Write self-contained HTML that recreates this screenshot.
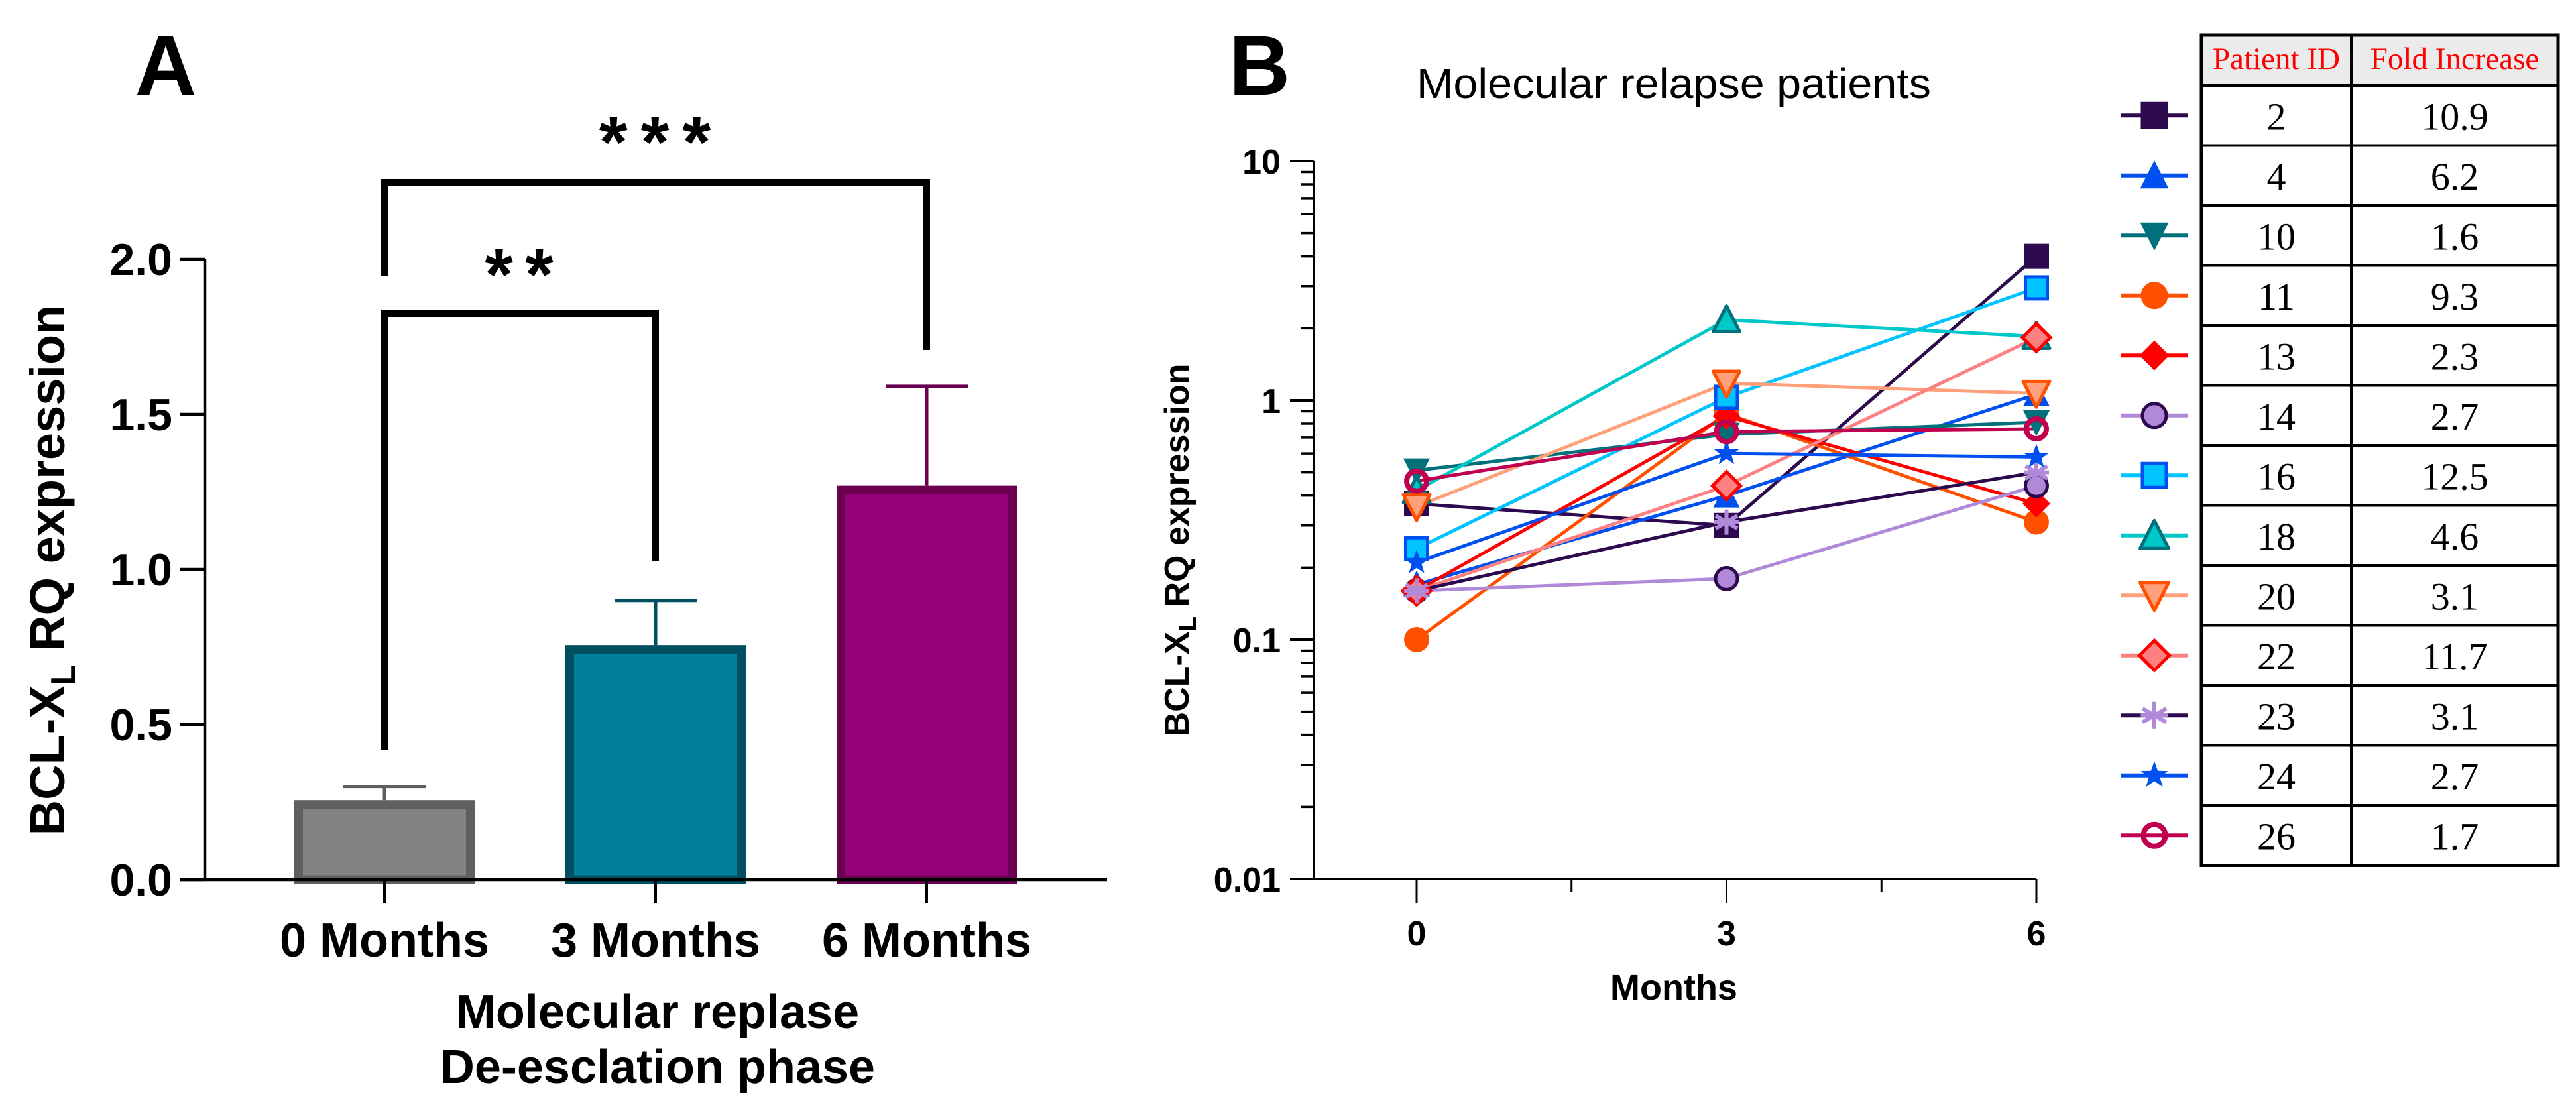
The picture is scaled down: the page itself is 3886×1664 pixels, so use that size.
<!DOCTYPE html>
<html><head><meta charset="utf-8"><style>
html,body{margin:0;padding:0;background:#fff;}
svg{display:block;}
text{font-family:"Liberation Sans",Arial,sans-serif;}
.serif{font-family:"Liberation Serif","Times New Roman",serif;}
</style></head>
<body>
<svg id="fig" width="3886" height="1664" viewBox="0 0 3886 1664" xmlns="http://www.w3.org/2000/svg">
  <g id="panelA"></g>
  <g id="panelB"></g>
  <g id="legend"></g>
</svg>
<script>
// ---------- Panel A data ----------
const barCategories = ["0 Months", "3 Months", "6 Months"];
const barMeans = [0.256, 0.756, 1.27];
const barErrors = [0.044, 0.144, 0.32];
const barYTicks = [0.0, 0.5, 1.0, 1.5, 2.0];
const barYTickLabels = ["0.0", "0.5", "1.0", "1.5", "2.0"];

// ---------- Panel B data ----------
const lineXValues = [0, 3, 6];
const lineXTickLabels = ["0", "3", "6"];
const lineYTicks = [10, 1, 0.1, 0.01];
const lineYTickLabels = ["10", "1", "0.1", "0.01"];
const patientIds = ["2","4","10","11","13","14","16","18","20","22","23","24","26"];
const foldIncrease = ["10.9","6.2","1.6","9.3","2.3","2.7","12.5","4.6","3.1","11.7","3.1","2.7","1.7"];
const p2 = [0.37, 0.30, 4.0];
const p4 = [0.17, 0.40, 1.06];
const p10 = [0.51, 0.72, 0.81];
const p11 = [0.10, 0.88, 0.31];
const p13 = [0.16, 0.86, 0.37];
const p14 = [0.16, 0.18, 0.44];
const p16 = [0.24, 1.03, 2.95];
const p18 = [0.42, 2.17, 1.85];
const p20 = [0.36, 1.18, 1.07];
const p22 = [0.16, 0.44, 1.83];
const p23 = [0.16, 0.31, 0.50];
const p24 = [0.21, 0.60, 0.58];
const p26 = [0.46, 0.74, 0.76];
const patientSeries = [p2,p4,p10,p11,p13,p14,p16,p18,p20,p22,p23,p24,p26];

const NS = "http://www.w3.org/2000/svg";
function mk(parent, tag, attrs, txt){
  const e = document.createElementNS(NS, tag);
  for (const k in attrs) e.setAttribute(k, attrs[k]);
  if (txt !== undefined) e.textContent = txt;
  parent.appendChild(e);
  return e;
}

// ================= PANEL A =================
const A = document.getElementById('panelA');
const aY0 = 1327, aPxPerUnit = 468, aXAxisL = 271, aXAxisR = 1670, aYAxisX = 309;
const aYTop = aY0 - 2.0 * aPxPerUnit;
const ya = v => aY0 - v * aPxPerUnit;
const barCenters = [580, 989, 1398];
const xa = i => barCenters[i];
const barHalf = 136;
const barFill = ["#838383", "#00809a", "#96007a"];
const barStroke = ["#5f5f5f", "#004f60", "#6b0050"];

let t = mk(A, 'text', {x: 250, y: 143, 'font-size': 128, 'font-weight': 'bold', 'text-anchor': 'middle'}, 'A');



barMeans.forEach((m, i) => {
  const top = ya(m), cx = xa(i);
  const eb = mk(A, 'path', {d: `M${cx},${top} V${ya(m + barErrors[i])} M${cx-62},${ya(m + barErrors[i])} H${cx+62}`, stroke: barStroke[i], 'stroke-width': 5, fill: 'none'});
  
  
  const r = mk(A, 'rect', {x: cx - barHalf + 6.5, y: top + 6.5, width: 2*barHalf - 13, height: aY0 - top - 6.5, fill: barFill[i], stroke: barStroke[i], 'stroke-width': 13});
  
  
  const tk = mk(A, 'line', {x1: cx, x2: cx, y1: aY0, y2: 1363, stroke: '#000', 'stroke-width': 4});
  
  
  const lb = mk(A, 'text', {x: cx, y: 1443, 'font-size': 72, 'font-weight': 'bold', 'text-anchor': 'middle'}, barCategories[i]);
  
  
});

let ax = mk(A, 'path', {d: `M${aYAxisX},${aYTop} V${aY0} M${aXAxisL},${aY0} H${aXAxisR}`, stroke: '#000', 'stroke-width': 4.5, fill: 'none'});


barYTicks.forEach((v, i) => {
  const tk = mk(A, 'line', {x1: aXAxisL, x2: aYAxisX, y1: ya(v), y2: ya(v), stroke: '#000', 'stroke-width': 4.5});
  
  
  const lb = mk(A, 'text', {x: 260, y: ya(v) + 24, 'font-size': 68, 'font-weight': 'bold', 'text-anchor': 'end'}, barYTickLabels[i]);
  
  
});

// significance brackets
let br1 = mk(A, 'path', {d: `M${xa(0)},1131 V473 H${xa(1)} V847`, stroke: '#000', 'stroke-width': 10, fill: 'none'});


let s1 = mk(A, 'text', {x: 792, y: 452, 'font-size': 110, 'font-weight': 'bold', 'text-anchor': 'middle', 'letter-spacing': 18}, '**');


let br2 = mk(A, 'path', {d: `M${xa(0)},417 V275 H${xa(2)} V528`, stroke: '#000', 'stroke-width': 10, fill: 'none'});


let s2 = mk(A, 'text', {x: 998, y: 252, 'font-size': 110, 'font-weight': 'bold', 'text-anchor': 'middle', 'letter-spacing': 20}, '***');



let xt1 = mk(A, 'text', {x: 992, y: 1551, 'font-size': 72, 'font-weight': 'bold', 'text-anchor': 'middle'}, 'Molecular replase');


let xt2 = mk(A, 'text', {x: 992, y: 1634, 'font-size': 72, 'font-weight': 'bold', 'text-anchor': 'middle'}, 'De-esclation phase');


let yt = mk(A, 'text', {transform: 'translate(97,860) rotate(-90)', 'font-size': 74, 'font-weight': 'bold', 'text-anchor': 'middle'});


mk(yt, 'tspan', {}, 'BCL-X');
mk(yt, 'tspan', {'font-size': 52, dy: 16}, 'L');
mk(yt, 'tspan', {dy: -16}, ' RQ expression');

// ================= PANEL B =================
const B = document.getElementById('panelB');
const bAxisX = 1982, bAxisY = 1326, bDecade = 361;
const bX0 = 2137, bPxPerMonth = (3072 - 2137) / 6;
const xb = m => bX0 + m * bPxPerMonth;
const yb = v => bAxisY - (Math.log10(v) + 2) * bDecade;

t = mk(B, 'text', {x: 1900, y: 143, 'font-size': 128, 'font-weight': 'bold', 'text-anchor': 'middle'}, 'B');


t = mk(B, 'text', {x: 2137, y: 148, 'font-size': 64, textLength: 776, lengthAdjust: 'spacingAndGlyphs'}, 'Molecular relapse patients');



ax = mk(B, 'path', {d: `M${bAxisX},${yb(10)} V${bAxisY} H${xb(6)}`, stroke: '#000', 'stroke-width': 4, fill: 'none'});


lineYTicks.forEach((v, i) => {
  const tk = mk(B, 'line', {x1: 1946, x2: bAxisX, y1: yb(v), y2: yb(v), stroke: '#000', 'stroke-width': 4});
  
  
  const lb = mk(B, 'text', {x: 1932, y: yb(v) + 19, 'font-size': 52, 'font-weight': 'bold', 'text-anchor': 'end'}, lineYTickLabels[i]);
  
  
});
[0.01, 0.1, 1].forEach(base => {
  for (let k = 2; k <= 9; k++) {
    const tk = mk(B, 'line', {x1: 1963, x2: bAxisX, y1: yb(base * k), y2: yb(base * k), stroke: '#000', 'stroke-width': 3.5});
    
    
  }
});
lineXValues.forEach((m, i) => {
  const tk = mk(B, 'line', {x1: xb(m), x2: xb(m), y1: bAxisY, y2: 1362, stroke: '#000', 'stroke-width': 3});
  
  
  const lb = mk(B, 'text', {x: xb(m), y: 1426, 'font-size': 52, 'font-weight': 'bold', 'text-anchor': 'middle'}, lineXTickLabels[i]);
  
  
});
[1.5, 4.5].forEach(m => {
  const tk = mk(B, 'line', {x1: xb(m), x2: xb(m), y1: bAxisY, y2: 1346, stroke: '#000', 'stroke-width': 3});
  
  
});
t = mk(B, 'text', {x: 2525, y: 1508, 'font-size': 54, 'font-weight': 'bold', 'text-anchor': 'middle'}, 'Months');


yt = mk(B, 'text', {transform: 'translate(1793,830) rotate(-90)', 'font-size': 52, 'font-weight': 'bold', 'text-anchor': 'middle'});


mk(yt, 'tspan', {}, 'BCL-X');
mk(yt, 'tspan', {'font-size': 37, dy: 11}, 'L');
mk(yt, 'tspan', {dy: -11}, ' RQ expression');

const styles = [
  {line:'#2d0a4e', shape:'square', fill:'#2d0a4e', stroke:'#2d0a4e'},
  {line:'#0050ef', shape:'tri', fill:'#0050ef', stroke:'#0050ef'},
  {line:'#00707a', shape:'itri', fill:'#00707a', stroke:'#00707a'},
  {line:'#ff5000', shape:'circle', fill:'#ff5000', stroke:'#ff5000'},
  {line:'#ff0000', shape:'diamond', fill:'#ff0000', stroke:'#ff0000'},
  {line:'#b08ad8', shape:'circle', fill:'#b08ad8', stroke:'#2d0a4e'},
  {line:'#00c4ff', shape:'square', fill:'#00c4ff', stroke:'#0050ef'},
  {line:'#00c8c8', shape:'tri', fill:'#00c8c8', stroke:'#00707a'},
  {line:'#ffa07a', shape:'itri', fill:'#ffa07a', stroke:'#ff5000'},
  {line:'#ff8080', shape:'diamond', fill:'#ff8080', stroke:'#ff0000'},
  {line:'#2d0a4e', shape:'asterisk', fill:'none', stroke:'#b08ad8'},
  {line:'#0050ef', shape:'star', fill:'#0050ef', stroke:'#0050ef'},
  {line:'#c0004f', shape:'ocircle', fill:'none', stroke:'#c0004f'}
];

function marker(g, shape, cx, cy, s, st) {
  const h = s / 2;
  let e;
  const sw = (st.fill === st.stroke) ? 0 : 5;
  if (shape === 'square') e = mk(g, 'rect', {x: cx-h+sw/2, y: cy-h+sw/2, width: s-sw, height: s-sw, fill: st.fill, stroke: st.stroke, 'stroke-width': sw});
  else if (shape === 'circle') e = mk(g, 'circle', {cx, cy, r: h - sw/2, fill: st.fill, stroke: st.stroke, 'stroke-width': sw});
  else if (shape === 'ocircle') e = mk(g, 'circle', {cx, cy, r: h - 4, fill: 'none', stroke: st.stroke, 'stroke-width': 8});
  else if (shape === 'tri') e = mk(g, 'polygon', {points: `${cx},${cy-h-2} ${cx+h+1},${cy+h-1} ${cx-h-1},${cy+h-1}`, fill: st.fill, stroke: st.stroke, 'stroke-width': sw, 'stroke-linejoin': 'round'});
  else if (shape === 'itri') e = mk(g, 'polygon', {points: `${cx},${cy+h+2} ${cx+h+1},${cy-h+1} ${cx-h-1},${cy-h+1}`, fill: st.fill, stroke: st.stroke, 'stroke-width': sw, 'stroke-linejoin': 'round'});
  else if (shape === 'diamond') e = mk(g, 'polygon', {points: `${cx},${cy-h-2} ${cx+h+2},${cy} ${cx},${cy+h+2} ${cx-h-2},${cy}`, fill: st.fill, stroke: st.stroke, 'stroke-width': sw});
  else if (shape === 'star') {
    let pts = [];
    for (let k = 0; k < 10; k++) { const r = k % 2 ? h*0.42 : h*1.05; const a = -Math.PI/2 + k*Math.PI/5; pts.push((cx + r*Math.cos(a)).toFixed(1) + ',' + (cy + r*Math.sin(a)).toFixed(1)); }
    e = mk(g, 'polygon', {points: pts.join(' '), fill: st.fill});
  } else if (shape === 'asterisk') {
    let d = `M${cx},${cy-h} V${cy+h}`;
    [30, 150].forEach(a => { const r = a*Math.PI/180; d += ` M${cx-h*Math.cos(r)},${cy-h*Math.sin(r)} L${cx+h*Math.cos(r)},${cy+h*Math.sin(r)}`; });
    d += ` M${cx-h},${cy} H${cx+h}`;
    e = mk(g, 'path', {d, stroke: st.stroke, 'stroke-width': 6, fill: 'none'});
  }
  return e;
}

const linesG = mk(B, 'g', {});


patientSeries.forEach((vals, i) => {
  const st = styles[i];
  const g = mk(linesG, 'g', {});
  
  
  const pts = vals.map((v, j) => xb(lineXValues[j]).toFixed(1) + ',' + yb(v).toFixed(1)).join(' ');
  const pl = mk(g, 'polyline', {points: pts, fill: 'none', stroke: st.line, 'stroke-width': 5});
  
  
});
patientSeries.forEach((vals, i) => {
  const st = styles[i];
  const g = mk(linesG, 'g', {});
  
  
  vals.forEach((v, j) => {
    const m = marker(g, st.shape, xb(lineXValues[j]), yb(v), 38, st);
    
    
  });
});

// ================= LEGEND TABLE =================
const L = document.getElementById('legend');
const tL = 3321, tM = 3547, tR = 3859, tTop = 53, hBot = 129, rowH = 90.5;
const tBot = hBot + rowH * patientIds.length;
let hb = mk(L, 'rect', {x: tL, y: tTop, width: tR - tL, height: hBot - tTop, fill: '#ebebeb'});


t = mk(L, 'text', {x: (tL+tM)/2, y: 104, 'font-size': 47, fill: '#ff0000', 'text-anchor': 'middle', class: 'serif'}, 'Patient ID');


t = mk(L, 'text', {x: (tM+tR)/2, y: 104, 'font-size': 47, fill: '#ff0000', 'text-anchor': 'middle', class: 'serif'}, 'Fold Increase');


patientIds.forEach((id, i) => {
  const cy = hBot + rowH * (i + 0.5);
  const a = mk(L, 'text', {x: (tL+tM)/2, y: cy + 21, 'font-size': 58, 'text-anchor': 'middle', class: 'serif'}, id);
  
  
  const b = mk(L, 'text', {x: (tM+tR)/2, y: cy + 21, 'font-size': 58, 'text-anchor': 'middle', class: 'serif'}, foldIncrease[i]);
  
  
  const st = styles[i];
  const g = mk(L, 'g', {});
  
  
  mk(g, 'line', {x1: 3200, x2: 3300, y1: cy, y2: cy, stroke: st.line, 'stroke-width': 6});
  marker(g, st.shape, 3250, cy, 41, st);
  const hl = mk(L, 'line', {x1: tL, x2: tR, y1: hBot + rowH * i, y2: hBot + rowH * i, stroke: '#000', 'stroke-width': 4});
  
  
});
let fr = mk(L, 'rect', {x: tL, y: tTop, width: tR - tL, height: tBot - tTop, fill: 'none', stroke: '#000', 'stroke-width': 5});


let vl = mk(L, 'line', {x1: tM, x2: tM, y1: tTop, y2: tBot, stroke: '#000', 'stroke-width': 4});


</script>
</body></html>
